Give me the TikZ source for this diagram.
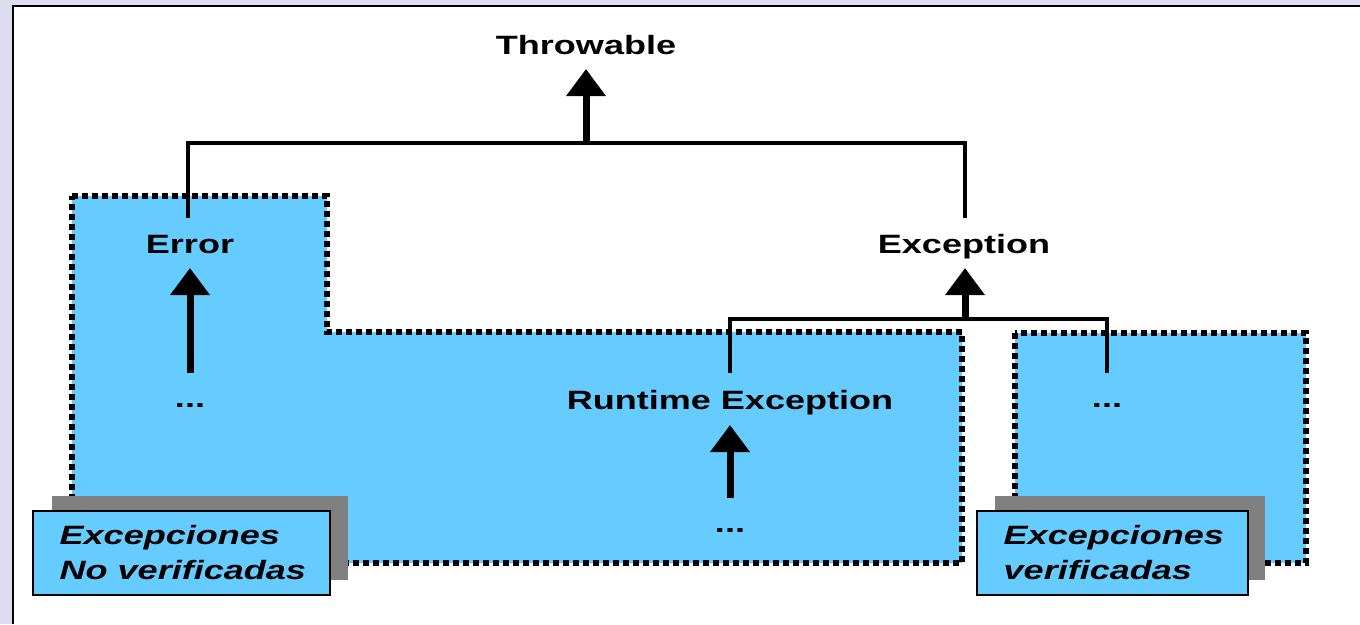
\documentclass[tikz,border=0pt]{standalone}
\usepackage{fontspec}
\setmainfont{Liberation Sans}
\usetikzlibrary{arrows.meta}
\definecolor{bluefill}{RGB}{102,204,255}
\definecolor{lav}{RGB}{220,220,238}
\definecolor{shadowgray}{RGB}{128,128,128}
\begin{document}
\begin{tikzpicture}[x=1pt,y=-1pt,
  lbl/.style={font=\fontsize{26.5}{35}\selectfont\bfseries, xscale=1.36, inner sep=0pt, anchor=base},
  itlbl/.style={font=\fontsize{26.5}{35}\selectfont\bfseries\itshape, xscale=1.36, inner sep=0pt, anchor=west, align=left},
  region/.style={fill=bluefill, draw=black, line width=6pt, dash pattern=on 6pt off 4pt, line join=miter},
  conn/.style={draw=black, line width=4pt},
  uparrow/.style={draw=black, line width=7pt, -{Triangle[length=27pt,width=38pt]}},
  shadowbox/.style={fill=shadowgray, draw=none, minimum width=296pt, minimum height=84pt, inner sep=0pt},
  labelbox/.style={fill=bluefill, draw=black, line width=1.2pt, inner sep=0pt},
]
\useasboundingbox (0,0) rectangle (1360,624);
% frame
\fill[lav] (0,0) rectangle (1360,624);
\fill[white] (13,6) rectangle (1360,624);
\draw[black, line width=2pt] (13,624) -- (13,6) -- (1360,6);

% regions
\path[region] (72,196) -- (327,196) -- (327,332) -- (962,332) -- (962,563) -- (72,563) -- cycle;
\path[region] (1015,333) rectangle (1306,563);

% text nodes
\node[lbl] (thr) at (586,54.5) {Throwable};
\node[lbl] (err) at (190,253.5) {Error};
\node[lbl] (exc) at (964,253.5) {Exception};
\node[lbl] (rte) at (730,409.5) {Runtime Exception};
\node[lbl] (d1) at (190,407) {...};
\node[lbl] (d2) at (730,532) {...};
\node[lbl] (d3) at (1107,407) {...};

% connectors
\coordinate (jt) at (586,143);
\coordinate (je) at (965,319);
\draw[conn] ([xshift=-2pt,yshift=35.5pt]err.base) |- (jt) -| ([xshift=1pt,yshift=35.5pt]exc.base);
\draw[uparrow] (jt) -- ([yshift=-14.5pt]thr.base);
\draw[uparrow] (je) -- ([xshift=1pt,yshift=-14.5pt]exc.base);
\draw[conn] ([yshift=36.5pt]rte.base) |- (je) -| ([yshift=34pt]d3.base);
\draw[uparrow] ([yshift=34pt]d1.base) -- ([yshift=-14.5pt]err.base);
\draw[uparrow] ([yshift=34pt]d2.base) -- ([yshift=-15.5pt]rte.base);

% label boxes
\node[shadowbox, minimum width=296pt] (sh1) at (200,538) {};
\node[labelbox, minimum width=297pt, minimum height=84pt] (nv) at (181.5,553) {};
\node[itlbl] (nvt) at ([xshift=27pt]nv.west) {Excepciones\\No verificadas};

\node[shadowbox, minimum width=270pt] (sh2) at (1130,538) {};
\node[labelbox, minimum width=271pt, minimum height=84pt] (vf) at (1112.5,553) {};
\node[itlbl] (vft) at ([xshift=27pt]vf.west) {Excepciones\\verificadas};
\end{tikzpicture}
\end{document}
